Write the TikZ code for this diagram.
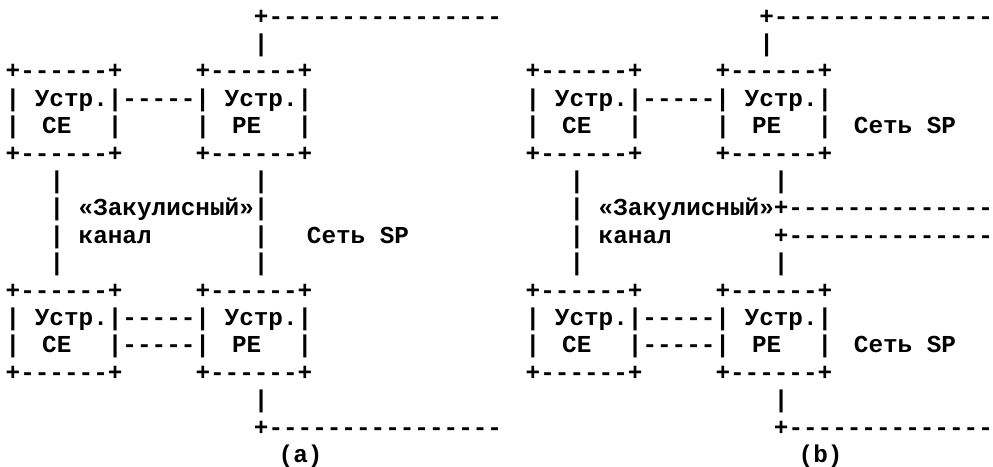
\documentclass[tikz,border=0pt]{standalone}
\usepackage{fontspec}
\setmonofont{Liberation Mono}
\begin{document}
\begin{tikzpicture}[x=1pt,y=-1pt,
  t/.style={anchor=base west,inner sep=0pt,outer sep=0pt,
    font=\ttfamily\bfseries\fontsize{24.33}{24.33}\selectfont},
  tc/.style={t,anchor=base}]
\useasboundingbox (0,0) rectangle (993,466);
\def\P{14.6}
\def\A{13}
\def\B{533}
% left-anchored segment: name, base x, column, row, text
\newcommand\segL[5]{\node[t] (#1) at ({#2+\P*#3-7.3},{16+27.4*#4+8}) {#5};}
% centred segment
\newcommand\segC[5]{\node[tc] (#1) at ({#2+\P*#3},{16+27.4*#4+8}) {#5};}
% ---------- (a) ----------
\segL{a0}{\A}{17}{0}{+----------------}
\segL{a1}{\A}{17}{1}{|}
\segL{a2l}{\A}{0}{2}{+------+}
\segL{a2r}{\A}{13}{2}{+------+}
\segL{a3}{\A}{0}{3}{| Устр.|-----| Устр.|}
\segL{a4a}{\A}{0}{4}{|}
\segC{a4b}{\A}{3}{4}{CE}
\segL{a4c}{\A}{7}{4}{|}
\segL{a4d}{\A}{13}{4}{|}
\segC{a4e}{\A}{16}{4}{PE}
\segL{a4f}{\A}{20}{4}{|}
\segL{a5l}{\A}{0}{5}{+------+}
\segL{a5r}{\A}{13}{5}{+------+}
\segL{a6l}{\A}{3}{6}{|}
\segL{a6r}{\A}{17}{6}{|}
\segL{a7l}{\A}{3}{7}{|}
\segL{a7m}{\A}{5}{7}{«Закулисный»}
\segL{a7r}{\A}{17}{7}{|}
\segL{a8l}{\A}{3}{8}{|}
\segL{a8m}{\A}{5}{8}{канал}
\segL{a8r}{\A}{17}{8}{|}
\node[tc] (a8s) at (358,{16+27.4*8+8}) {Сеть SP};
\segL{a9l}{\A}{3}{9}{|}
\segL{a9r}{\A}{17}{9}{|}
\segL{a10l}{\A}{0}{10}{+------+}
\segL{a10r}{\A}{13}{10}{+------+}
\segL{a11}{\A}{0}{11}{| Устр.|-----| Устр.|}
\segL{a12a}{\A}{0}{12}{|}
\segC{a12b}{\A}{3}{12}{CE}
\segL{a12c}{\A}{7}{12}{|-----|}
\segC{a12e}{\A}{16}{12}{PE}
\segL{a12f}{\A}{20}{12}{|}
\segL{a13l}{\A}{0}{13}{+------+}
\segL{a13r}{\A}{13}{13}{+------+}
\segL{a14}{\A}{17}{14}{|}
\segL{a15}{\A}{17}{15}{+----------------}
\segC{a16}{\A}{19.7}{16}{(a)}
% ---------- (b) ----------
\segL{b0}{\B}{16}{0}{+---------------}
\segL{b1}{\B}{16}{1}{|}
\segL{b2l}{\B}{0}{2}{+------+}
\segL{b2r}{\B}{13}{2}{+------+}
\segL{b3}{\B}{0}{3}{| Устр.|-----| Устр.|}
\segL{b4a}{\B}{0}{4}{|}
\segC{b4b}{\B}{3}{4}{CE}
\segL{b4c}{\B}{7}{4}{|}
\segL{b4d}{\B}{13}{4}{|}
\segC{b4e}{\B}{16}{4}{PE}
\segL{b4f}{\B}{20}{4}{|}
\node[tc] (b4s) at (905,{16+27.4*4+8}) {Сеть SP};
\segL{b5l}{\B}{0}{5}{+------+}
\segL{b5r}{\B}{13}{5}{+------+}
\segL{b6l}{\B}{3}{6}{|}
\segL{b6r}{\B}{17}{6}{|}
\segL{b7l}{\B}{3}{7}{|}
\segL{b7m}{\B}{5}{7}{«Закулисный»+--------------}
\segL{b8l}{\B}{3}{8}{|}
\segL{b8m}{\B}{5}{8}{канал}
\segL{b8r}{\B}{17}{8}{+--------------}
\segL{b9l}{\B}{3}{9}{|}
\segL{b9r}{\B}{17}{9}{|}
\segL{b10l}{\B}{0}{10}{+------+}
\segL{b10r}{\B}{13}{10}{+------+}
\segL{b11}{\B}{0}{11}{| Устр.|-----| Устр.|}
\segL{b12a}{\B}{0}{12}{|}
\segC{b12b}{\B}{3}{12}{CE}
\segL{b12c}{\B}{7}{12}{|-----|}
\segC{b12e}{\B}{16}{12}{PE}
\segL{b12f}{\B}{20}{12}{|}
\node[tc] (b12s) at (905,{16+27.4*12+8}) {Сеть SP};
\segL{b13l}{\B}{0}{13}{+------+}
\segL{b13r}{\B}{13}{13}{+------+}
\segL{b14}{\B}{17}{14}{|}
\segL{b15}{\B}{17}{15}{+--------------}
\segC{b16}{\B}{19.7}{16}{(b)}
\end{tikzpicture}
\end{document}
